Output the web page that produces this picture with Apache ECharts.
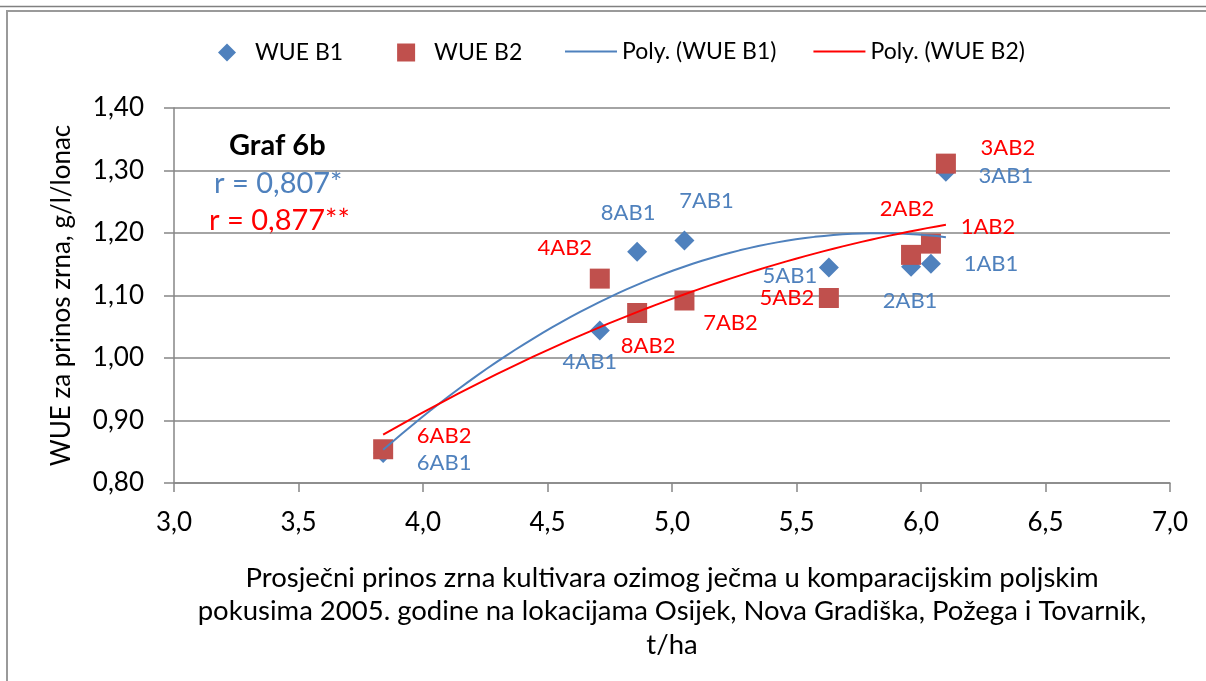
<!DOCTYPE html>
<html><head><meta charset="utf-8">
<script src="https://cdn.jsdelivr.net/npm/echarts@6/dist/echarts.min.js"></script>
<style>html,body{margin:0;padding:0;background:#fff}#c{width:1206px;height:681px}</style>
</head><body><div id="c"></div>
<script>
// ---- data ----
const namesB1 = ['1AB1','2AB1','3AB1','4AB1','5AB1','6AB1','7AB1','8AB1'];
const xB1 = [6.04, 5.96, 6.10, 4.71, 5.63, 3.84, 5.05, 4.86];
const yB1 = [1.151, 1.146, 1.298, 1.044, 1.145, 0.848, 1.188, 1.170];
const namesB2 = ['1AB2','2AB2','3AB2','4AB2','5AB2','6AB2','7AB2','8AB2'];
const xB2 = [6.04, 5.96, 6.10, 4.71, 5.63, 3.84, 5.05, 4.86];
const yB2 = [1.183, 1.165, 1.311, 1.127, 1.096, 0.854, 1.092, 1.072];
const seriesNames = ['WUE B1', 'WUE B2', 'Poly. (WUE B1)', 'Poly. (WUE B2)'];
const xTitle = 'Prosječni prinos zrna kultivara ozimog ječma u komparacijskim poljskim\npokusima 2005. godine na lokacijama Osijek, Nova Gradiška, Požega i Tovarnik,\nt/ha';
const yTitle = 'WUE za prinos zrna, g/l/lonac';
const noteTitle = 'Graf 6b';
const noteR1 = 'r = 0,807*';
const noteR2 = 'r = 0,877**';

// ---- label layout (pixel offsets from marker centre) ----
const offB1 = [[60,0],[-1,34],[60,4],[-10,31],[-39,9],[61,10],[22,-40],[-9,-39]];
const offB2 = [[57,-17],[-4,-46],[62,-16],[-35,-31],[-42,0],[61,-13],[46,22],[11,33]];

const FONT = 'Lato';
const BLUE = '#4F81BD', RED_M = '#C0504D', RED = '#FF0000';

// quadratic least-squares trend (like Excel "Poly." order 2)
function polyfit2(xs, ys){
  let S=[0,0,0,0,0], T=[0,0,0];
  xs.forEach((x,i)=>{ let p=1; for(let k=0;k<5;k++){S[k]+=p; if(k<3)T[k]+=p*ys[i]; p*=x;} });
  const A=[[S[0],S[1],S[2],T[0]],[S[1],S[2],S[3],T[1]],[S[2],S[3],S[4],T[2]]];
  for(let i=0;i<3;i++){ for(let j=i+1;j<3;j++){ const f=A[j][i]/A[i][i]; for(let k=i;k<4;k++)A[j][k]-=f*A[i][k]; } }
  const c=[0,0,0];
  for(let i=2;i>=0;i--){ let s=A[i][3]; for(let k=i+1;k<3;k++)s-=A[i][k]*c[k]; c[i]=s/A[i][i]; }
  return c;
}
function trend(xs, ys){
  const c = polyfit2(xs, ys);
  const lo = Math.min(...xs), hi = Math.max(...xs), n = 60, out=[];
  for(let i=0;i<=n;i++){ const x = lo+(hi-lo)*i/n; out.push([x, c[0]+c[1]*x+c[2]*x*x]); }
  return out;
}

function pts(xs, ys, names, offs, color){
  return xs.map((x,i)=>({value:[x, ys[i]], name:names[i],
    label:{show:true, position:'inside', offset:offs[i], formatter:names[i], color:color,
      fontFamily:FONT, fontSize:22, align:'center', verticalAlign:'middle'}}));
}

const chart = echarts.init(document.getElementById('c'), null, {renderer:'canvas'});
chart.setOption({
  animation:false,
  backgroundColor:'#fff',
  textStyle:{fontFamily:FONT},
  grid:{left:174, right:36, top:108, bottom:198, containLabel:false},
  legend:[
    {data:[seriesNames[0], seriesNames[1]], left:213, top:36, itemWidth:18, itemHeight:18, itemGap:54,
     textStyle:{fontFamily:FONT, fontSize:23, color:'#000', padding:[0,0,0,14]}},
    {data:[{name:seriesNames[2], icon:'rect'}, {name:seriesNames[3], icon:'rect'}], left:560, top:35,
     itemWidth:52, itemHeight:2, itemGap:37,
     textStyle:{fontFamily:FONT, fontSize:23, color:'#000', padding:[0,0,0,0]}}
  ],
  xAxis:{type:'value', min:3, max:7, interval:0.5,
    name:xTitle, nameLocation:'middle', nameGap:78,
    nameTextStyle:{fontFamily:FONT, fontSize:27.5, color:'#000', lineHeight:33.5},
    axisLine:{show:true, lineStyle:{color:'#868686', width:1.5}},
    axisTick:{show:true, inside:false, length:9, lineStyle:{color:'#868686', width:1.5}},
    axisLabel:{margin:27, fontFamily:FONT, fontSize:26, color:'#000', formatter:v=>v.toFixed(1).replace('.',',')},
    splitLine:{show:false}},
  yAxis:{type:'value', min:0.8, max:1.4, interval:0.1,
    name:yTitle, nameLocation:'middle', nameGap:99,
    nameTextStyle:{fontFamily:FONT, fontSize:26, color:'#000'},
    axisLine:{show:true, lineStyle:{color:'#868686', width:1.5}},
    axisTick:{show:true, inside:false, length:10, lineStyle:{color:'#868686', width:1.5}},
    axisLabel:{margin:30, fontFamily:FONT, fontSize:26, color:'#000', formatter:v=>v.toFixed(2).replace('.',',')},
    splitLine:{show:true, lineStyle:{color:'#868686', width:1.5}}},
  series:[
    {name:seriesNames[0], type:'scatter', symbol:'diamond', symbolSize:20, z:3,
     itemStyle:{color:BLUE, opacity:1}, data:pts(xB1, yB1, namesB1, offB1, BLUE)},
    {name:seriesNames[1], type:'scatter', symbol:'rect', symbolSize:20, z:4,
     itemStyle:{color:RED_M, opacity:1}, data:pts(xB2, yB2, namesB2, offB2, RED)},
    {name:seriesNames[2], type:'line', symbol:'none', smooth:false, z:5,
     lineStyle:{color:BLUE, width:2}, itemStyle:{color:BLUE}, data:trend(xB1, yB1)},
    {name:seriesNames[3], type:'line', symbol:'none', smooth:false, z:6,
     lineStyle:{color:RED, width:2}, itemStyle:{color:RED}, data:trend(xB2, yB2)}
  ],
  graphic:[
    {type:'line', shape:{x1:0, y1:6.5, x2:1206, y2:6.5}, style:{stroke:'#808080', lineWidth:1.5}, silent:true},
    {type:'polyline', shape:{points:[[7,681],[7,11],[1206,11]]}, style:{stroke:'#9a9a9a', lineWidth:2, fill:null}, silent:true},
    {type:'text', left:229, top:131, style:{text:noteTitle, font:'bold 29px '+FONT, fill:'#000'}},
    {type:'text', left:214, top:169, style:{text:noteR1, font:'29px '+FONT, fill:BLUE}},
    {type:'text', left:209, top:206, style:{text:noteR2, font:'29px '+FONT, fill:RED}}
  ]
});
</script></body></html>
